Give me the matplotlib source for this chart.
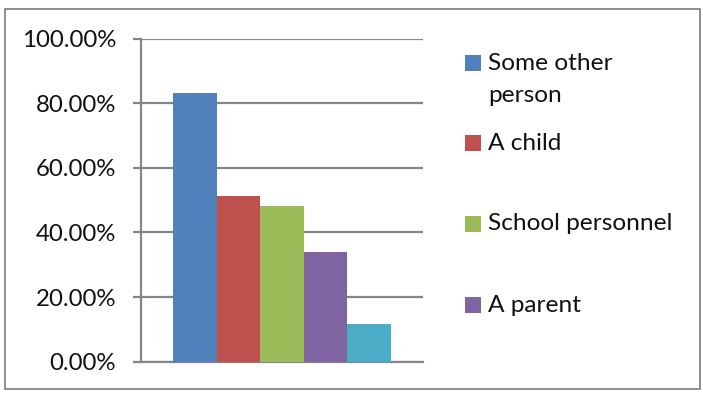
import matplotlib
matplotlib.use("Agg")
import matplotlib.pyplot as plt
from matplotlib.patches import Rectangle
from matplotlib.ticker import FuncFormatter

# Share of respondents by who they reported (one category, five series)
values = [0.832, 0.513, 0.482, 0.340, 0.117]
series_names = ["Some other\nperson", "A child", "School personnel", "A parent"]
colors = ["#4F81BD", "#C0504D", "#9BBB59", "#8064A2", "#4BACC6"]
y_ticks = [0.0, 0.2, 0.4, 0.6, 0.8, 1.0]

W, H = 703, 393
fig = plt.figure(figsize=(W / 100, H / 100), dpi=100)
plt.rcParams["font.family"] = ["Lato", "DejaVu Sans"]
text_col = "#111111"

# chart border
fig.add_artist(Rectangle((5 / W, (H - 389) / H), 695 / W, 380 / H,
                         transform=fig.transFigure, fill=False,
                         edgecolor="#868686", linewidth=1.3))

ax = fig.add_axes([141 / W, (H - 361.7) / H, 282 / W, 323 / H])
grid_col = "#868686"

n = len(values)
width = (218 / 282) / n
for i, (v, c) in enumerate(zip(values, colors)):
    ax.bar((i - (n - 1) / 2) * width, v, width=width, color=c, zorder=3,
           linewidth=0)

ax.set_xlim(-0.5, 0.5)
ax.set_ylim(0, 1.0)
ax.set_yticks(y_ticks)
ax.yaxis.set_major_formatter(FuncFormatter(lambda v, p: f"{v * 100:.2f}%"))
ax.set_xticks([])
ax.grid(axis="y", color=grid_col, linewidth=1.6, zorder=1)
for s in ["top", "right"]:
    ax.spines[s].set_visible(False)
for s in ["left", "bottom"]:
    ax.spines[s].set_color(grid_col)
    ax.spines[s].set_linewidth(1.6)
ax.tick_params(axis="y", direction="out", length=6, width=1.6,
               color=grid_col, pad=12, labelsize=17.3, labelcolor=text_col)

# legend (squares aligned with first text line)
legend_y = [63, 143, 224, 305]
for name, c, yy in zip(series_names, colors, legend_y):
    fig.add_artist(Rectangle((465 / W, (H - yy - 8) / H), 16 / W, 16 / H,
                             transform=fig.transFigure, color=c, linewidth=0))
    lines = name.split("\n")
    for k, line in enumerate(lines):
        fig.text(488 / W, (H - yy - 32 * k) / H, line, fontsize=17.6,
                 va="center", ha="left", color=text_col)

fig.savefig("out.png", dpi=100)
